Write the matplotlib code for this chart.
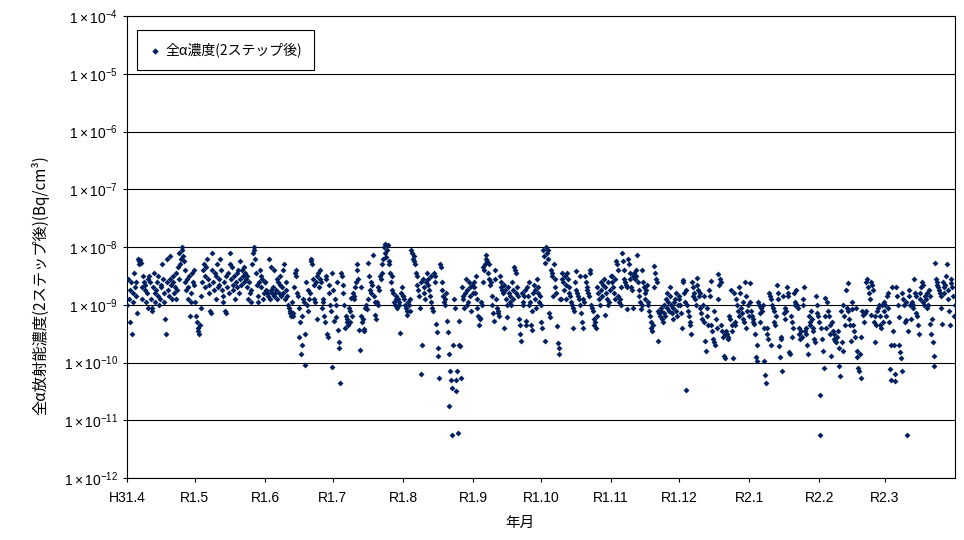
import numpy as np
import matplotlib
matplotlib.use("Agg")
import matplotlib.pyplot as plt

plt.rcParams['font.family'] = ['Liberation Sans', 'Noto Sans CJK JP', 'DejaVu Sans']
plt.rcParams['mathtext.fontset'] = 'custom'
plt.rcParams['mathtext.rm'] = 'Liberation Sans'
plt.rcParams['mathtext.it'] = 'Liberation Sans:italic'
plt.rcParams['mathtext.bf'] = 'Liberation Sans:bold'

# 月ラベル (H31.4 〜 R2.3)
month_labels = ['H31.4', 'R1.5', 'R1.6', 'R1.7', 'R1.8', 'R1.9', 'R1.10',
                'R1.11', 'R1.12', 'R2.1', 'R2.2', 'R2.3']
month_starts = np.arange('2019-04', '2020-05', dtype='datetime64[M]')

# 全α濃度 log10(Bq/cm3)、月ごと
apr = [-9.0, -8.55, -8.9, -9.3, -8.75, -8.6, -9.5, -8.95, -8.8, -8.45, -8.7, -8.85, -8.6, -9.15, -8.2,
       -8.25, -8.3, -8.22, -8.28, -8.7, -8.9, -8.5, -8.6, -8.75, -8.65, -8.95, -8.8, -8.55, -9.05, -8.5,
       -8.6, -8.9, -9.1, -9.05, -8.7, -8.45, -8.8, -8.95, -8.75, -8.6, -8.5, -8.85, -9.0, -8.9, -8.65,
       -8.7, -8.3, -8.55, -8.8, -8.95, -9.25, -9.5, -8.2, -8.6, -8.75, -8.85, -8.55, -8.15, -8.65, -8.9,
       -8.5, -8.6, -8.8, -8.7, -8.9, -8.45, -8.75, -8.35, -8.55, -8.1, -8.3, -8.2, -8.05, -8.0, -8.15,
       -8.25, -8.4, -8.6, -8.75, -8.55, -8.9, -8.7, -8.5, -9.2, -8.8, -8.95, -8.45, -8.6, -8.65, -8.4]
may = [-8.95, -9.2, -9.3, -9.4, -9.45, -9.5, -9.35, -9.05, -8.85, -8.6, -8.4, -8.3, -8.5, -8.7, -8.35,
       -8.2, -8.55, -8.8, -8.65, -9.1, -9.15, -8.4, -8.1, -8.6, -8.75, -8.45, -8.9, -8.5, -8.3, -8.7,
       -8.55, -8.65, -8.2, -8.4, -8.75, -8.85, -8.95, -8.6, -9.1, -9.15, -8.5, -8.7, -8.45, -8.8, -8.3,
       -8.1, -8.55, -8.35, -8.65, -8.75, -8.5, -8.9, -8.6, -8.45, -8.7, -8.4, -8.8, -8.25, -8.55, -8.65,
       -8.4, -8.5, -8.35, -8.6, -8.45, -8.55, -8.7, -8.5, -8.9, -8.6, -8.8, -8.95, -8.75, -8.3, -8.1,
       -8.05, -8.0, -8.2, -8.45, -8.65, -8.85, -8.95, -8.6, -8.4, -8.5, -8.7, -8.55, -8.9, -8.8, -8.6]
jun = [-8.6, -8.75, -8.8, -8.85, -8.8, -8.2, -8.9, -8.75, -8.35, -8.8, -8.7, -8.85, -8.4, -8.8, -8.75,
       -8.55, -8.9, -8.6, -8.8, -8.5, -8.65, -8.85, -8.7, -8.4, -8.8, -8.3, -8.9, -8.6, -8.75, -8.85,
       -9.0, -9.05, -9.1, -9.15, -9.2, -8.95, -9.15, -9.2, -8.7, -8.45, -8.5, -8.4, -8.8, -8.85, -9.55,
       -9.05, -9.3, -9.85, -9.7, -9.2, -8.9, -8.95, -9.5, -10.05, -8.6, -9.0, -8.75, -9.1, -8.9, -8.8,
       -8.25, -8.2, -8.3, -8.55, -8.65, -8.9, -8.95, -8.6, -8.5, -9.25, -8.45, -8.7, -8.4, -8.55, -8.6,
       -9.05, -8.9, -8.95, -9.2, -9.3, -8.5, -8.55, -9.5, -9.55, -8.8, -8.65, -9.0, -9.1, -8.45, -10.07]
jul = [-8.75, -9.28, -8.9, -9.22, -9.0, -8.6, -9.43, -9.65, -9.75, -10.35, -8.45, -8.5, -8.65, -8.8, -9.0,
       -9.4, -9.2, -9.25, -9.3, -9.35, -9.05, -9.1, -9.3, -8.88, -9.2, -8.8, -8.85, -8.9, -8.7, -8.6,
       -8.3, -8.4, -8.55, -9.43, -9.78, -8.7, -9.2, -9.3, -9.25, -9.45, -9.42, -9.05, -9.0, -9.08, -8.9,
       -8.27, -8.5, -8.75, -8.8, -8.6, -8.65, -8.13, -8.85, -8.95, -9.18, -9.25, -8.95, -9.0, -8.7, -8.75,
       -8.5, -8.55, -8.45, -8.3, -8.2, -8.0, -7.95, -8.1, -8.18, -8.05, -7.97, -8.25, -8.3, -8.45, -8.6,
       -8.5, -8.75, -8.8, -8.95, -9.0, -8.9, -8.85, -9.05, -8.9, -8.95, -9.0, -9.49, -8.8, -8.7, -8.85]
aug = [-8.85, -8.9, -9.0, -9.05, -9.1, -9.17, -8.95, -9.0, -9.1, -8.9, -8.05, -8.1, -8.2, -8.25, -8.15,
       -8.3, -8.45, -8.5, -8.65, -8.75, -8.85, -9.05, -10.2, -8.6, -9.69, -8.55, -8.7, -8.8, -8.9, -8.6,
       -8.45, -8.55, -8.65, -8.75, -8.85, -8.5, -8.95, -9.05, -9.1, -8.45, -8.5, -8.6, -9.33, -9.48, -9.75,
       -9.89, -10.27, -8.3, -8.35, -8.6, -8.75, -8.85, -8.95, -9.0, -8.9, -8.8, -9.28, -9.48, -9.85, -10.76,
       -10.15, -10.3, -10.45, -11.25, -9.7, -8.9, -9.05, -10.5, -10.3, -10.15, -11.22, -9.28, -9.7, -9.72, -10.27,
       -8.7, -8.85, -8.9, -9.05, -8.8, -8.55, -8.75, -9.0, -8.95, -8.6, -8.7, -8.85, -9.1, -8.65, -8.8]
sep = [-8.6, -8.7, -8.8, -8.5, -8.9, -9.05, -9.2, -9.35, -9.25, -9.23, -8.95, -9.0, -8.6, -8.35, -8.4,
       -8.3, -8.2, -8.13, -8.25, -8.45, -8.3, -8.55, -8.65, -8.6, -8.85, -9.0, -9.15, -9.28, -8.4, -8.55,
       -8.9, -9.05, -9.1, -9.15, -9.2, -8.5, -8.6, -8.7, -8.75, -8.8, -9.4, -8.65, -8.75, -8.9, -9.0,
       -9.22, -8.7, -8.8, -8.85, -8.95, -9.0, -8.6, -8.75, -8.9, -8.35, -8.4, -8.45, -8.8, -8.7, -8.85,
       -9.25, -9.35, -9.5, -9.63, -8.8, -8.95, -9.0, -8.85, -8.75, -9.28, -9.35, -8.7, -8.85, -9.0, -8.6,
       -8.95, -9.35, -9.43, -9.1, -8.8, -8.65, -8.75, -8.9, -9.05, -8.55, -8.7, -8.8, -8.95, -8.85, -9.0]
oct_ = [-9.3, -9.4, -8.05, -8.15, -8.27, -9.63, -8.0, -8.1, -8.2, -8.05, -9.15, -9.22, -8.4, -8.45, -8.5,
        -8.85, -8.3, -8.55, -8.7, -8.8, -9.37, -9.66, -9.75, -9.86, -8.9, -8.9, -8.45, -8.55, -8.6, -8.75,
        -8.5, -8.65, -8.9, -8.45, -8.55, -8.7, -8.8, -8.85, -8.95, -9.0, -9.4, -9.05, -9.1, -8.6, -8.75,
        -8.42, -8.8, -8.85, -8.9, -9.0, -8.5, -9.15, -9.3, -9.4, -8.9, -8.95, -8.5, -8.6, -8.7, -8.75,
        -8.8, -8.85, -8.4, -8.45, -9.0, -9.05, -9.1, -9.25, -9.35, -9.3, -9.4, -9.2, -8.7, -8.8, -8.9,
        -9.0, -8.6, -8.75, -8.85, -8.65, -8.55, -9.17, -8.7, -8.8, -8.9, -8.6, -9.0, -8.95, -8.75, -8.5]
nov = [-8.5, -8.6, -8.7, -8.8, -8.9, -8.55, -8.25, -8.3, -8.4, -8.85, -8.95, -8.9, -8.7, -9.0, -8.1,
       -8.25, -8.4, -8.55, -8.6, -8.65, -8.7, -9.08, -8.2, -8.3, -8.45, -8.55, -8.7, -8.75, -9.05, -8.5,
       -8.45, -8.55, -8.4, -8.5, -8.13, -8.6, -8.75, -8.85, -8.95, -9.08, -9.0, -8.39, -8.6, -8.7, -8.8,
       -8.9, -8.75, -8.65, -8.95, -9.0, -9.1, -9.2, -9.3, -9.4, -9.46, -9.35, -8.33, -8.7, -8.45, -8.55,
       -8.6, -9.63, -9.1, -9.15, -9.2, -9.05, -9.1, -9.25, -9.3, -9.0, -9.15, -9.2, -8.9, -9.05, -8.8,
       -8.95, -9.1, -8.7, -8.85, -9.0, -9.15, -9.25, -9.05, -8.95, -8.9, -8.8, -9.1, -9.2, -9.0, -8.85]
dec = [-8.9, -9.0, -9.15, -9.4, -8.57, -8.6, -8.8, -8.95, -10.47, -8.75, -9.0, -9.1, -9.2, -9.3, -9.35,
       -9.51, -8.6, -8.7, -8.85, -8.8, -8.9, -9.0, -8.53, -8.65, -8.75, -8.85, -8.8, -9.05, -9.15, -9.25,
       -9.0, -8.85, -9.3, -9.63, -9.8, -9.05, -9.2, -9.35, -8.75, -8.85, -8.59, -9.35, -9.45, -9.6, -9.1,
       -9.65, -9.7, -9.25, -9.4, -8.9, -8.47, -8.65, -8.55, -8.6, -9.35, -9.45, -9.55, -9.88, -9.92, -9.5,
       -9.45, -9.5, -9.55, -9.6, -9.2, -9.25, -8.75, -9.35, -9.45, -9.92, -8.8, -9.3, -9.35, -8.9, -9.0,
       -9.1, -9.2, -8.7, -8.8, -9.05, -9.15, -9.25, -8.95, -9.3, -8.6, -8.85, -9.4, -9.1, -9.0, -9.2]
jan = [-8.62, -8.95, -9.1, -9.2, -9.3, -9.25, -9.34, -9.5, -9.9, -9.98, -9.69, -8.95, -9.0, -9.15, -9.3,
       -9.05, -9.1, -9.0, -9.4, -9.98, -10.21, -10.35, -9.4, -9.5, -9.6, -8.8, -8.85, -9.7, -8.9, -9.0,
       -9.05, -9.1, -9.3, -9.35, -9.2, -8.65, -8.9, -8.8, -9.72, -9.9, -9.55, -9.6, -10.15, -8.85, -9.15,
       -9.25, -9.05, -9.1, -8.7, -8.8, -8.85, -9.82, -9.86, -9.2, -9.3, -9.55, -9.4, -8.8, -8.95, -9.0,
       -8.75, -9.0, -9.05, -9.4, -9.5, -9.6, -9.45, -9.55, -8.9, -9.0, -8.7, -9.45, -9.4, -9.5, -9.7,
       -9.85, -9.2, -9.3, -9.35, -9.1, -9.25, -9.4, -9.45, -9.6, -9.65, -8.85, -9.0, -9.15, -9.2, -9.3]
feb = [-11.25, -10.56, -9.4, -9.6, -9.8, -10.09, -8.88, -9.2, -9.4, -8.95, -9.1, -9.2, -9.35, -9.5, -9.89,
       -9.3, -9.45, -9.6, -9.5, -9.62, -9.65, -9.55, -9.45, -9.75, -10.06, -10.24, -9.1, -9.65, -9.8, -9.0,
       -9.2, -9.35, -8.75, -9.05, -8.62, -9.1, -9.25, -9.35, -9.62, -8.96, -9.07, -9.35, -9.45, -9.55, -9.05,
       -9.8, -9.9, -10.09, -10.15, -9.85, -9.55, -10.27, -9.1, -9.17, -9.3, -9.15, -9.1, -8.6, -8.55, -8.7,
       -8.8, -8.9, -8.6, -9.17, -8.65, -8.75, -9.3, -9.65, -9.2, -9.35, -9.1, -9.05, -9.0, -9.35, -9.2,
       -9.4, -9.0, -9.3, -9.1, -8.95]
mar = [-9.0, -9.2, -8.85, -8.8, -9.05, -9.3, -10.12, -10.3, -9.7, -8.7, -9.45, -9.7, -10.2, -10.32, -8.7,
       -8.85, -9.0, -9.22, -9.7, -9.82, -9.92, -10.15, -8.8, -8.9, -9.0, -9.3, -8.95, -9.27, -11.25, -9.46,
       -8.75, -8.85, -9.0, -9.25, -8.95, -9.0, -9.05, -8.56, -8.8, -8.85, -9.15, -9.2, -9.35, -9.5, -8.8,
       -8.9, -8.7, -8.6, -8.65, -8.95, -9.0, -8.85, -8.9, -9.05, -8.8, -9.0, -8.75, -8.85, -9.34, -9.5,
       -9.25, -9.64, -10.06, -9.89, -8.27, -8.55, -8.6, -8.65, -8.7, -8.75, -8.8, -8.85, -9.05, -9.33, -8.6,
       -8.7, -8.8, -8.65, -8.5, -8.3, -8.75, -8.9, -9.1, -9.35, -8.55, -8.62, -8.7, -8.85, -9.2, -9.0]

monthly = [apr, may, jun, jul, aug, sep, oct_, nov, dec, jan, feb, mar]

# 経過日数 (2019/4/1 起点)
start_days = (month_starts.astype('datetime64[D]') - month_starts[0].astype('datetime64[D]')).astype(float)

xs, ys = [], []
for m, vals in enumerate(monthly):
    d0, d1 = start_days[m], start_days[m + 1]
    n = len(vals)
    for i, v in enumerate(vals):
        xs.append(d0 + (i + 0.5) * (d1 - d0) / n)
        ys.append(10.0 ** v)

jp = ['Noto Sans CJK JP', 'DejaVu Sans']

fig = plt.figure(figsize=(9.64, 5.4), dpi=100)
ax = fig.add_axes([127 / 964, 62 / 540, 828 / 964, 462 / 540])

ax.scatter(xs, ys, marker='D', s=9, color='#002060', linewidths=0, label='全α濃度(2ステップ後)', zorder=3)

ax.set_yscale('log')
ax.set_ylim(1e-12, 1e-4)
yt = [10.0 ** k for k in range(-12, -3)]
ax.set_yticks(yt)
ax.set_yticklabels([r'$1\times10^{%d}$' % k for k in range(-12, -3)], fontsize=10)
ax.yaxis.set_minor_locator(matplotlib.ticker.NullLocator())
ax.grid(axis='y', color='black', linewidth=0.8)

ax.set_xlim(0, start_days[-1])
ax.set_xticks(start_days[:-1])
ax.set_xticklabels(month_labels, fontsize=10)
ax.tick_params(axis='both', direction='out', length=3, width=0.8, color='black')
ax.tick_params(axis='x', pad=6)

for s in ax.spines.values():
    s.set_linewidth(0.8)
    s.set_color('black')

# 軸タイトル (グラフエリア基準の位置)
fig.text(40 / 964, 1 - 285 / 540, '全α放射能濃度(2ステップ後)(Bq/cm³)', fontsize=11,
         rotation=90, ha='center', va='center', family=jp)
fig.text(520 / 964, 1 - 523 / 540, '年月', fontsize=10.5, ha='center', va='center', family=jp)

leg = ax.legend(loc='upper left', bbox_to_anchor=(0.004, 0.985), frameon=True,
                prop={'family': jp, 'size': 10},
                fancybox=False, edgecolor='black', framealpha=1, borderpad=0.9,
                handletextpad=0.3, handlelength=0.8, markerscale=1.1)
leg.get_frame().set_linewidth(0.8)

fig.savefig('out.png', dpi=100)
